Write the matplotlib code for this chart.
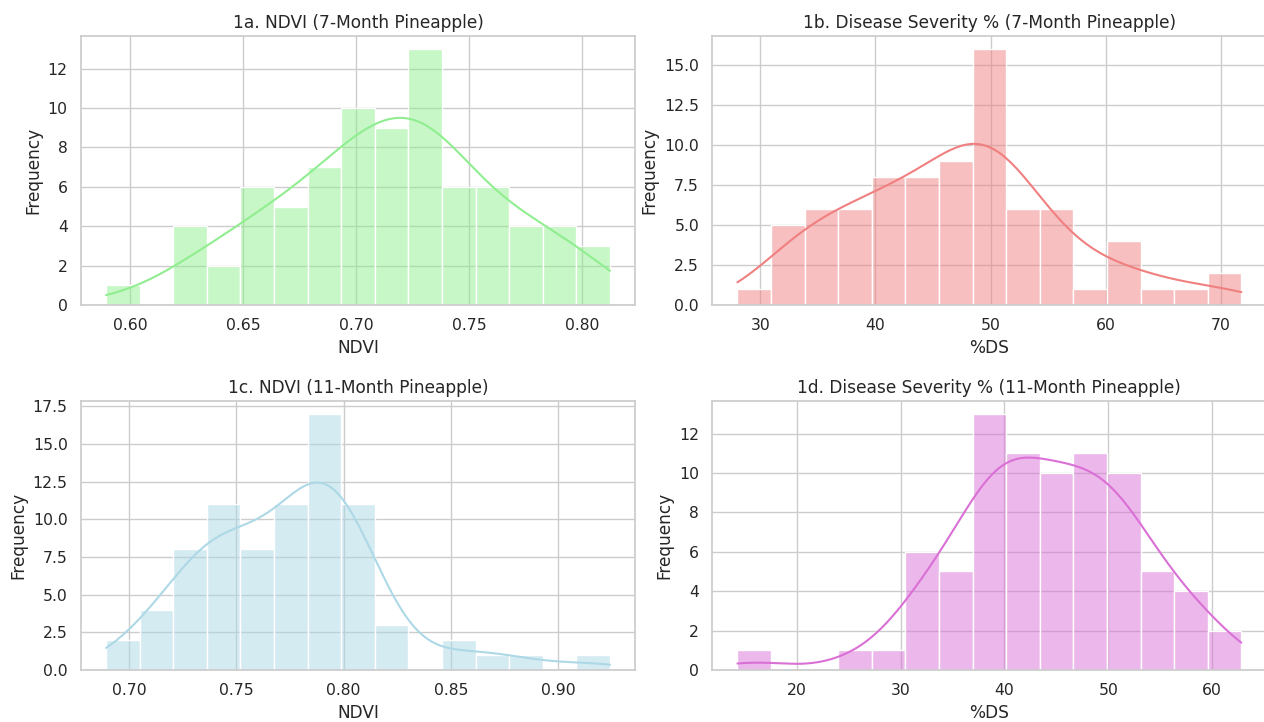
import numpy as np
import pandas as pd
import matplotlib
matplotlib.use("Agg")
import matplotlib.pyplot as plt
import seaborn as sns

# histogram counts (15 bins each) and bin range
ndvi7_counts = [1, 0, 4, 2, 6, 5, 7, 10, 9, 13, 6, 6, 4, 4, 3]
ndvi7_range = (0.5892, 0.8124)
ds7_counts = [1, 5, 6, 6, 8, 8, 9, 16, 6, 6, 1, 4, 1, 1, 2]
ds7_range = (28.0, 71.8)
ndvi11_counts = [2, 4, 8, 11, 8, 11, 17, 11, 3, 0, 2, 1, 1, 0, 1]
ndvi11_range = (0.6893, 0.9242)
ds11_counts = [1, 0, 0, 1, 1, 6, 5, 13, 11, 10, 11, 10, 5, 4, 2]
ds11_range = (14.3, 62.8)

panels = [
    ("1a. NDVI (7-Month Pineapple)", "NDVI", ndvi7_counts, ndvi7_range, "lightgreen"),
    ("1b. Disease Severity % (7-Month Pineapple)", "%DS", ds7_counts, ds7_range, "lightcoral"),
    ("1c. NDVI (11-Month Pineapple)", "NDVI", ndvi11_counts, ndvi11_range, "lightblue"),
    ("1d. Disease Severity % (11-Month Pineapple)", "%DS", ds11_counts, ds11_range, "orchid"),
]

sns.set_theme(style="whitegrid", font_scale=1.02)
fig, axes = plt.subplots(2, 2, figsize=(12.64, 7.22), dpi=100)
# right column runs to (just past) the image edge, like the cropped original
fig.subplots_adjust(left=0.064, right=1.002, top=0.950, bottom=0.072,
                    wspace=0.139, hspace=0.357)

for ax, (title, xlabel, counts, rng, color) in zip(axes.flat, panels):
    edges = np.linspace(rng[0], rng[1], len(counts) + 1)
    centers = 0.5 * (edges[:-1] + edges[1:])
    # one observation per counted item, placed at its bin centre
    df = pd.DataFrame({"v": np.repeat(centers, counts)})
    sns.histplot(data=df, x="v", bins=len(counts), binrange=rng, kde=True,
                 kde_kws={"cut": 3, "clip": rng}, color=color, ax=ax)
    ax.set_title(title)
    ax.set_xlabel(xlabel)
    ax.set_ylabel("Frequency")

fig.savefig("out.png")
